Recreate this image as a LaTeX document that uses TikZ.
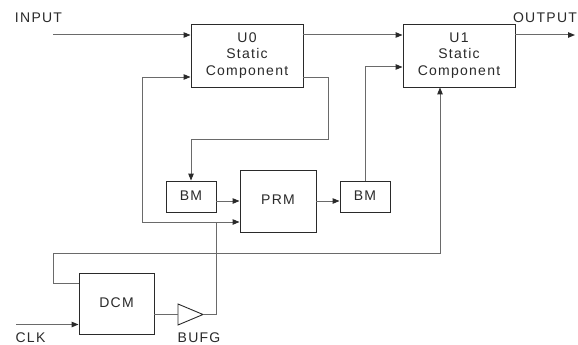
\documentclass[tikz,border=0pt]{standalone}
\usepackage{fontspec}
\setmainfont[LetterSpace=9]{Liberation Sans}
\usetikzlibrary{arrows.meta,calc}
\definecolor{wire}{HTML}{6A6A6A}
\definecolor{edge}{HTML}{2A2A2A}
\begin{document}
\begin{tikzpicture}[x=1pt,y=-1pt,
  every node/.style={font=\fontsize{14}{16.7}\selectfont, text=edge, inner sep=0pt},
  blk/.style={draw=edge, line width=0.9pt, fill=white, align=center},
  wireln/.style={draw=wire, line width=1pt},
  arr/.style={wireln, -{Triangle[length=7pt,width=5.5pt,color=edge]}},
  lbl/.style={anchor=center}]
\useasboundingbox (0,0) rectangle (578,345);
% blocks
\node[blk, minimum width=112pt, minimum height=63pt] (u0) at (247,55.5) {U0\\Static\\Component};
\node[blk, minimum width=112pt, minimum height=63pt] (u1) at (459,55.5) {U1\\Static\\Component};
\node[blk, minimum width=50pt, minimum height=31pt] (bm1) at (191,196.5) {\raisebox{2pt}{BM}};
\node[blk, minimum width=76pt, minimum height=62pt] (prm) at (278,201) {\raisebox{2pt}{PRM}};
\node[blk, minimum width=50pt, minimum height=31pt] (bm2) at (365,196.5) {\raisebox{2pt}{BM}};
\node[blk, minimum width=75pt, minimum height=61pt] (dcm) at (116.5,303.5) {\raisebox{1pt}{DCM}};
% buffer
\coordinate (bufl) at (178,314.5);
\coordinate (buft) at (203,314.5);
\draw[draw=edge, line width=0.9pt] (178,304) -- (buft) -- (178,325) -- cycle;
% labels
\node[lbl] (lin) at (38.5,18) {INPUT};
\node[lbl] (lout) at (545,18) {OUTPUT};
\node[lbl] (lclk) at (30.5,338) {CLK};
\node[lbl] (lbufg) at (199,338) {BUFG};
% coordinates
\coordinate (inp) at (53,35);
\coordinate (outp) at (575,35);
\coordinate (clk) at (16,324.5);
\coordinate (j1) at (216,222);
% connectors
\draw[arr] (inp) -- (inp -| u0.west);
\draw[arr] ($(u0.east)+(0,-20.5)$) -- ($(u1.west)+(0,-20.5)$);
\draw[arr] ($(u1.east)+(0,-20.5)$) -- (outp);
\draw[arr] (u0.east |- 0,77) -- (328,77) -- (328,139) -- (bm1.north |- 0,139) -- (bm1.north);
\draw[arr] (bm1.east |- 0,201) -- (prm.west |- 0,201);
\draw[arr] (prm.east |- 0,201) -- (bm2.west |- 0,201);
\draw[arr] (bm2.north) -- (365,67) -- (u1.west |- 0,67);
\draw[arr] (j1) -- (j1 -| prm.west);
\draw[arr] (j1) -- (142,222) -- (142,77) -- (u0.west |- 0,77);
\draw[wireln] (buft) -- (216,314.5) -- (j1);
\draw[wireln] (dcm.east |- bufl) -- (bufl);
\draw[arr] (dcm.west |- 0,283) -- (53,283) -- (53,253) -- (440,253) -- (440,0 |- u1.south);
\draw[arr] (clk) -- (clk -| dcm.west);
\end{tikzpicture}
\end{document}
